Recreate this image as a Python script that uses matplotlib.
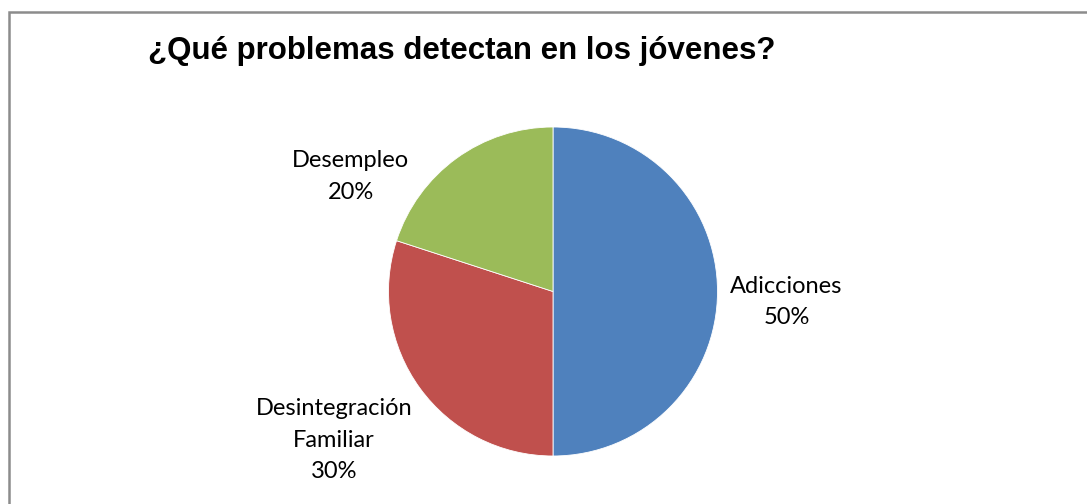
import matplotlib
matplotlib.use("Agg")
import matplotlib.pyplot as plt
from matplotlib.patches import Rectangle

title = "¿Qué problemas detectan en los jóvenes?"
categories = ["Adicciones", "Desintegración\nFamiliar", "Desempleo"]
shares = [50, 30, 20]
colors = ["#4F81BD", "#C0504D", "#9BBB59"]

# label anchor points (pie data units, radius = 1)
label_pos = [(1.42, -0.065), (-1.33, -0.905), (-1.23, 0.70)]

W, H = 1087, 504
fig = plt.figure(figsize=(W / 100, H / 100), dpi=100)
fig.patch.set_facecolor("white")

# chart-area border (runs off the right and bottom edges)
fig.patches.append(Rectangle((9 / W, -0.1), 1.2, (H - 12) / H + 0.1,
                             transform=fig.transFigure, fill=False,
                             edgecolor="#8c8c8c", linewidth=1.8))

cx, cy, r = 553, 291.5, 164.5
ax = fig.add_axes([(cx - r) / W, (H - cy - r) / H, 2 * r / W, 2 * r / H])
ax.pie(shares, colors=colors, startangle=90, counterclock=False,
       wedgeprops=dict(edgecolor="white", linewidth=0.6))
ax.set_xlim(-1, 1)
ax.set_ylim(-1, 1)
ax.set_aspect("auto")
ax.axis("off")

for name, val, (x, y) in zip(categories, shares, label_pos):
    ax.text(x, y, f"{name}\n{val}%", ha="center", va="center",
            fontsize=17, family="Lato", color="black", linespacing=1.62,
            clip_on=False)

fig.text(148 / W, 1 - 51 / H, title, ha="left", va="center",
         fontsize=22.5, fontweight="bold", family="Liberation Sans")

fig.savefig("out.png", dpi=100)
